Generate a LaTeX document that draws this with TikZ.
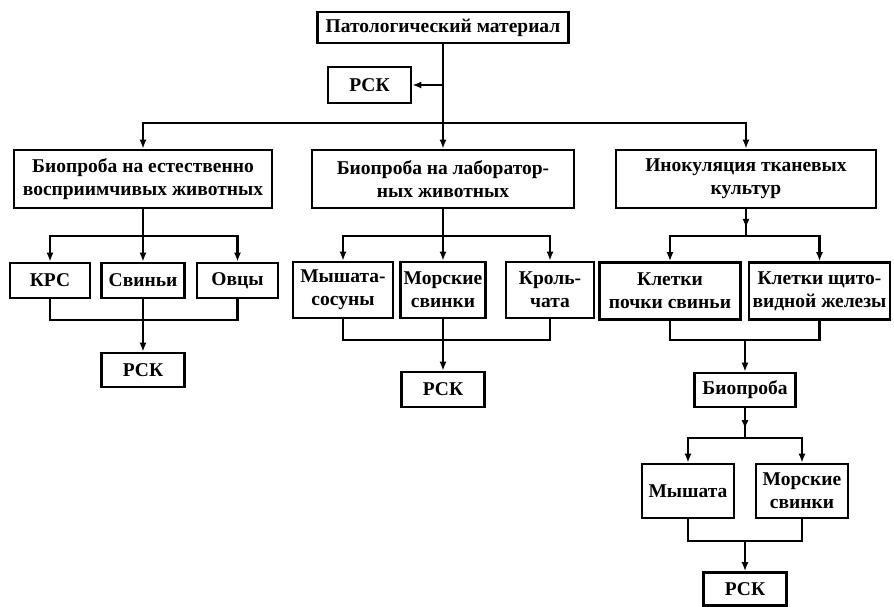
\documentclass[tikz,border=0pt]{standalone}
\usepackage{fontspec}
\setmainfont{Liberation Serif}
\usetikzlibrary{arrows.meta, positioning, decorations.markings}

\begin{document}
\begin{tikzpicture}[
  x=1pt, y=-1pt,
  box/.style={rectangle, draw, line width=2.6pt, align=center, inner sep=1pt,
              font=\bfseries\fontsize{19.5}{23}\selectfont},
  link/.style={line width=2.6pt},
  arrow/.style={link, -{Latex[length=9pt,width=7pt]}},
  midarrow/.style={link, postaction={decorate},
                   decoration={markings, mark=at position 0.7 with {\arrow{Latex[length=9pt,width=7pt]}}}},
]
\useasboundingbox (0,0) rectangle (894,606);

% top
\node[box, minimum width=251pt, minimum height=31pt] (mat) at (443,27.5) {Патологический материал};
\node[box, minimum width=83pt, minimum height=36pt] (rsk0) at (369.5,85) {РСК};
\coordinate (j0) at (443,123);

\node[box, minimum width=258pt, minimum height=58pt] (bioN) at (143,179) {Биопроба на естественно\\восприимчивых животных};
\node[box, minimum width=262pt, minimum height=58pt] (bioL) at (443,179) {Биопроба на лаборатор-\\ных животных};
\node[box, minimum width=260pt, minimum height=58pt] (ino)  at (746,179) {Инокуляция тканевых\\культур};

\draw[link] (mat) -- (j0);
\draw[arrow] (mat.south |- rsk0.east) -- (rsk0.east);
\draw[arrow] (j0) -| (bioN);
\draw[arrow] (j0) -- (bioL);
\draw[arrow] (j0) -| (ino);

% left branch
\coordinate (jN) at (143,236);
\coordinate (jN2) at (143,320);
\node[box, minimum width=80pt, minimum height=35pt] (krs)  at (50,280.5)  {КРС};
\node[box, minimum width=83pt, minimum height=35pt] (svin) at (143,280.5) {Свиньи};
\node[box, minimum width=81pt, minimum height=35pt] (ovcy) at (237.5,280.5) {Овцы};
\node[box, minimum width=83pt, minimum height=34pt] (rskN) at (143,370) {РСК};

\draw[link] (bioN) -- (jN);
\draw[arrow] (jN) -| (krs);
\draw[arrow] (jN) -- (svin);
\draw[arrow] (jN) -| (ovcy);
\draw[link] (krs) |- (jN2) -| (ovcy);
\draw[link] (svin) -- (jN2);
\draw[arrow] (jN2) -- (rskN);

% middle branch
\coordinate (jL) at (443,236);
\coordinate (jL2) at (443,340);
\node[box, minimum width=100pt, minimum height=56pt] (mys)  at (343,290) {Мышата-\\сосуны};
\node[box, minimum width=85pt, minimum height=56pt]  (mors) at (443,290) {Морские\\свинки};
\node[box, minimum width=88pt, minimum height=56pt]  (krol) at (550,290) {Кроль-\\чата};
\node[box, minimum width=83pt, minimum height=35pt]  (rskL) at (443,389.5) {РСК};

\draw[link] (bioL) -- (jL);
\draw[arrow] (jL) -| (mys);
\draw[arrow] (jL) -- (mors);
\draw[arrow] (jL) -| (krol);
\draw[link] (mys) |- (jL2) -| (krol);
\draw[link] (mors) -- (jL2);
\draw[arrow] (jL2) -- (rskL);

% right branch
\coordinate (jI) at (746,236);
\coordinate (jI2) at (745,340);
\node[box, minimum width=141pt, minimum height=57pt] (klp)  at (670,291)   {Клетки\\почки свиньи};
\node[box, minimum width=141pt, minimum height=57pt] (klsh) at (819.5,291) {Клетки щито-\\видной железы};
\node[box, minimum width=101pt, minimum height=34pt] (bio2) at (745,390)   {Биопроба};

\draw[midarrow] (ino) -- (jI);
\draw[arrow] (jI) -| (klp);
\draw[arrow] (jI) -| (klsh);
\draw[link] (klp) |- (jI2) -| (klsh);
\draw[arrow] (jI2) -- (bio2);

\coordinate (jB) at (745,438);
\coordinate (jB2) at (745,541);
\node[box, minimum width=92pt, minimum height=54pt] (mysh2) at (688,491) {Мышата};
\node[box, minimum width=92pt, minimum height=54pt] (mors2) at (802,491) {Морские\\свинки};
\node[box, minimum width=83pt, minimum height=33pt] (rsk2)  at (745,589) {РСК};

\draw[midarrow] (bio2) -- (jB);
\draw[arrow] (jB) -| (mysh2);
\draw[arrow] (jB) -| (mors2);
\draw[link] (mysh2) |- (jB2) -| (mors2);
\draw[arrow] (jB2) -- (rsk2);
\end{tikzpicture}
\end{document}
